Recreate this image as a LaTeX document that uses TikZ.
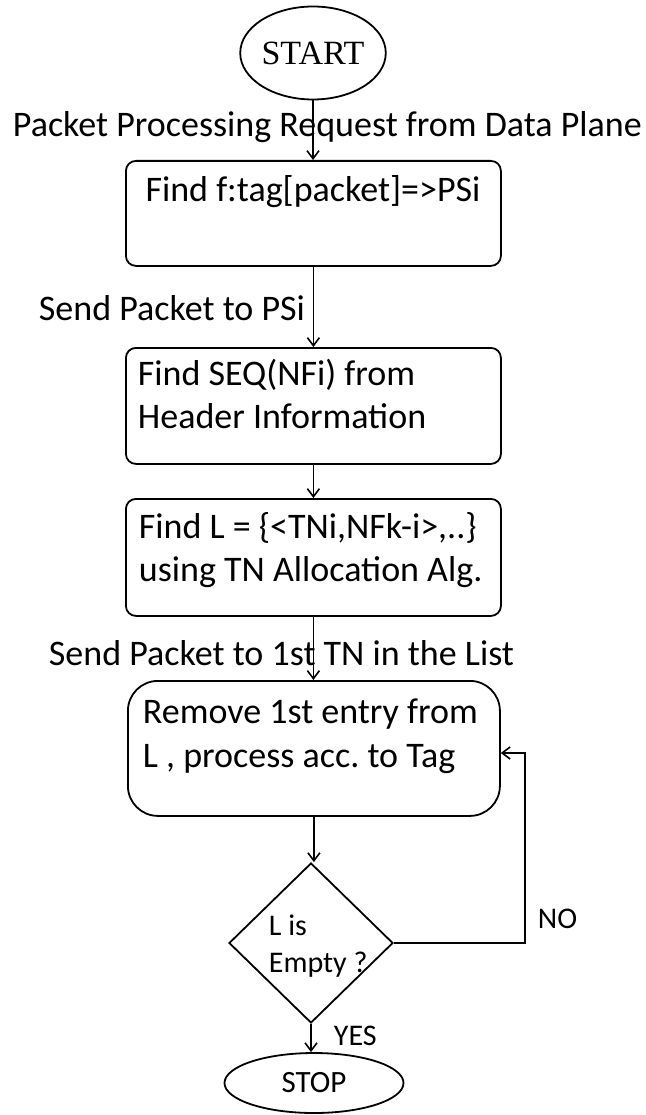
\documentclass[tikz,border=0pt]{standalone}
\usepackage{fontspec}
\setmainfont{Carlito}
\newfontfamily\startfont{Liberation Serif}
\usetikzlibrary{shapes.geometric,arrows.meta}
\newcommand\mlines[1]{\begin{tabular}[t]{@{}l@{}}#1\end{tabular}}
\frenchspacing
\begin{document}
\begin{tikzpicture}[x=1pt,y=-1pt,line width=1.8pt,
  box/.style={draw,rounded corners=10,minimum width=375,inner sep=0,anchor=north west},
  term/.style={draw,ellipse,inner sep=0},
  decision/.style={draw,diamond,inner sep=0,minimum width=164,minimum height=160},
  txt/.style={inner sep=0,anchor=base west,font=\fontsize{36}{43}\selectfont},
  small/.style={inner sep=0,anchor=base west,font=\fontsize{30}{37}\selectfont},
  arr/.style={-{Straight Barb[length=8,width=12,line width=1.6pt]}}]
\useasboundingbox (0,0) rectangle (645,1115);
% nodes
\node[term,minimum width=142,minimum height=93,font=\startfont\fontsize{34}{38}\selectfont] (start) at (313,53) {START};
\node[box,minimum height=105] (b1) at (125,160) {};
\node[box,minimum height=116] (b2) at (125,347) {};
\node[box,minimum height=117] (b3) at (125,498) {};
\node[box,minimum height=135,minimum width=372,rounded corners=30] (b4) at (127,680) {};
\node[decision] (dia) at (311,943) {};
\node[term,minimum width=179,minimum height=60,font=\fontsize{31}{36}\selectfont] (stop) at (314,1083) {STOP};
% texts
\node[txt] (l1) at (12,137) {Packet Processing Request from Data Plane};
\node[txt,anchor=base] (t1) at (313,202) {Find f:tag[packet]=>PSi};
\node[txt] (l2) at (38,320) {Send Packet to PSi};
\node[txt] (t2) at (137,385) {\mlines{Find SEQ(NFi) from\\Header Information}};
\node[txt] (t3) at (138,538) {\mlines{Find L = \{<TNi,NFk-i>,..\}\\using TN Allocation Alg.}};
\node[txt] (l3) at (48,665) {Send Packet to 1st TN in the List};
\node[txt] (t4) at (142,723) {\mlines{Remove 1st entry from\\[1pt]L , process acc. to Tag}};
\node[small] (t5) at (268,935) {\mlines{L is\\Empty ?}};
\node[small] (no) at (537,928) {NO};
\node[small] (yes) at (333,1045) {YES};
% connectors
\coordinate (fb) at (525,753);
\draw[arr] (start.south) -- (start.south |- b1.north);
\draw[arr] (b1.south) -- (b1.south |- b2.north);
\draw[arr] (b2.south) -- (b2.south |- b3.north);
\draw[arr] (b3.south) -- (b3.south |- b4.north);
\draw[arr] (b4.south) -- (b4.south |- dia.north);
\draw[arr] (dia.south) -- (dia.south |- stop.north);
\draw[arr] (dia.east) -| (fb) -- (fb -| b4.east);
\end{tikzpicture}
\end{document}
